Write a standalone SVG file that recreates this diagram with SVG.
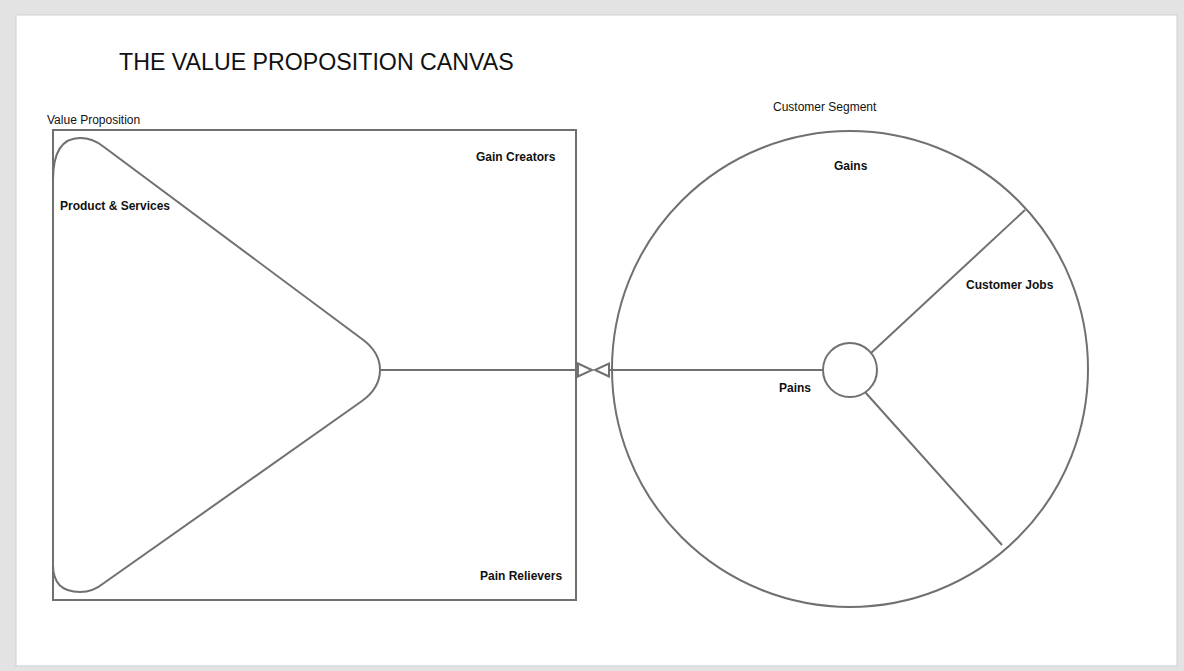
<svg xmlns="http://www.w3.org/2000/svg" width="1184" height="671" viewBox="0 0 1184 671">
<style>
.s{fill:none;stroke:#707070;stroke-width:2}
.t{font-family:"Liberation Sans",Arial,sans-serif;fill:#111}
.b{font-weight:bold;font-size:12px}
.n{font-size:12px}
</style>
<defs>
<marker id="tri" markerWidth="18" markerHeight="16" refX="15" refY="8" orient="auto" markerUnits="userSpaceOnUse">
<path d="M1,1.5 L15,8 L1,14.5 Z" fill="#fff" stroke="#707070" stroke-width="2"/>
</marker>
</defs>
<rect x="0" y="0" width="1184" height="671" fill="#e3e3e3"/>
<rect x="16" y="15" width="1161" height="651" fill="#fff" stroke="#cfcfcf" stroke-width="1"/>
<text class="t" x="119" y="70" font-size="23.2">THE VALUE PROPOSITION CANVAS</text>
<g id="value-proposition">
<text class="t n" x="47" y="124">Value Proposition</text>
<rect class="s" x="53" y="130" width="523" height="470"/>
<text class="t b" x="476" y="161">Gain Creators</text>
<text class="t b" x="480" y="580">Pain Relievers</text>
</g>
<g id="product-services">
<path class="s" d="M53,180 Q53,138 80,138 Q93,138 104,147 L362,339 Q380,352 380,370 Q380,388 362,401 L104,583 Q93,592 80,592 Q53,592 53,565"/>
<text class="t b" x="60" y="210">Product &amp; Services</text>
</g>
<g id="customer-segment">
<text class="t n" x="773" y="111">Customer Segment</text>
<circle class="s" cx="850" cy="369" r="238"/>
<circle class="s" cx="850" cy="370" r="27"/>
<line class="s" x1="871" y1="353" x2="1025" y2="210"/>
<line class="s" x1="865" y1="392" x2="1002" y2="545"/>
<text class="t b" x="834" y="170">Gains</text>
<text class="t b" x="966" y="289">Customer Jobs</text>
<text class="t b" x="779" y="392">Pains</text>
</g>
<g id="connectors">
<line class="s" x1="380" y1="370" x2="592" y2="370" marker-end="url(#tri)"/>
<line class="s" x1="823" y1="370" x2="595" y2="370" marker-end="url(#tri)"/>
</g>
</svg>
